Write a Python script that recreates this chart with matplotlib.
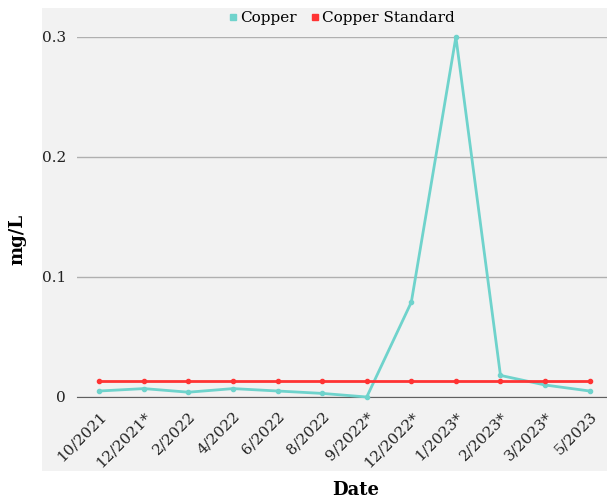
import matplotlib
matplotlib.use("Agg")
import matplotlib.pyplot as plt
import numpy as np

dates = ['10/2021', '12/2021*', '2/2022', '4/2022', '6/2022', '8/2022', '9/2022*',
         '12/2022*', '1/2023*', '2/2023*', '3/2023*', '5/2023']
copper = [0.005, 0.007, 0.004, 0.007, 0.005, 0.003, 0.0, 0.079, 0.3, 0.018, 0.010, 0.005]
copper_std = [0.013] * len(dates)

plt.rcParams['font.family'] = ['DejaVu Serif']

fig = plt.figure(figsize=(6.07, 5.01), dpi=100)

# grey chart-area panel behind the plot
bg = fig.add_axes([42/607, 1-471/501, 1 - 42/607, (471-8)/501], zorder=-1)
bg.set_facecolor('#f2f2f2')
bg.set_xticks([])
bg.set_yticks([])
for s in bg.spines.values():
    s.set_visible(False)

ax = fig.add_axes([77/607, 1-397/501, 1 - 77/607, (397-37)/501])
ax.set_facecolor('none')
x = np.arange(len(dates))
ax.plot(x, copper, color='#6fd3cc', lw=2, marker='o', ms=3, label='Copper',
        clip_on=False, zorder=3)
ax.plot(x, copper_std, color='#ff3333', lw=2, marker='o', ms=3,
        label='Copper Standard', clip_on=False, zorder=4)

ax.set_xlim(-0.5, 11.39)
ax.set_ylim(0, 0.3)
ax.set_yticks([0, 0.1, 0.2, 0.3])
ax.set_yticklabels(['0', '0.1', '0.2', '0.3'], fontsize=11)
ax.yaxis.grid(True, color='#b0b0b0', lw=1)
ax.set_axisbelow(True)
for s in ['top', 'right', 'left']:
    ax.spines[s].set_visible(False)
ax.spines['bottom'].set_color('#606060')
ax.tick_params(axis='both', length=0, colors='#222222')
ax.tick_params(axis='y', pad=8)
ax.set_xticks(x)
ax.set_xticklabels(dates, rotation=45, ha='right', rotation_mode='anchor', fontsize=11)
ax.tick_params(axis='x', pad=9)

ax.set_ylabel('mg/L', fontsize=13, fontweight='bold')
ax.yaxis.set_label_coords(-0.095, (397 - 239) / 360)
fig.text(356/607, 1-490/501, 'Date', fontsize=13, fontweight='bold',
         ha='center', va='center')

ax.legend(loc='center', bbox_to_anchor=(0.5, 1 + 19/360), ncol=2, frameon=False,
          fontsize=11, handlelength=0.5, handletextpad=0.2, columnspacing=1.0,
          markerscale=1.3)
leg = ax.get_legend()
for h in leg.legend_handles:
    h.set_linestyle('none')
    h.set_marker('s')

fig.savefig('out.png', dpi=100)
